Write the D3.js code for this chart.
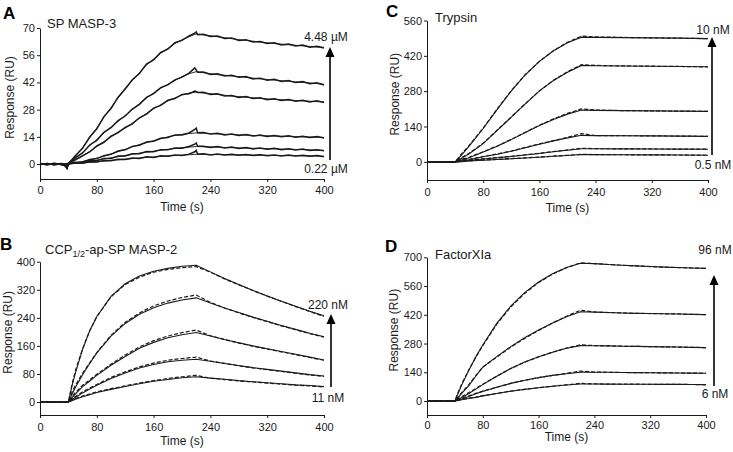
<!DOCTYPE html>
<html>
<head>
<meta charset="utf-8">
<script src="https://cdn.jsdelivr.net/npm/d3@7"></script>
<style>
  body { margin: 0; background: #fff; }
  svg { display: block; font-family: "Liberation Sans", Arial, Helvetica, sans-serif; }
</style>
</head>
<body>
<div id="chart"></div>
<script>
// shared x ticks (s)
const TIME_TICKS = [0, 80, 160, 240, 320, 400];

// ---- A: SP MASP-3 (RU) ----
const A_TICKS = [0, 14, 28, 42, 56, 70];
const A_FIT_T = [0,10,20,30,40,50,60,70,80,90,100,110,120,130,140,150,160,170,180,190,200,210,220,
  230,240,250,260,270,280,290,300,310,320,330,340,350,360,370,380,390,400];
const A_FIT_1 = [0,0,0,0,0, 4,8.5,13.5,18.5,24,29,34,39,43,47,51,54,57,59.5,62,64,65.5,67,
  66.5,66,65.5,65,64.5,64,63.6,63.2,62.8,62.4,62,61.7,61.4,61.1,60.8,60.5,60.2,60];
const A_FIT_2 = [0,0,0,0,0, 3,6,9.5,12.5,16,19,22,25,28,31,34,36.5,39,41,43,45,46.5,47.5,
  47,46.5,46,45.7,45.3,45,44.6,44.2,43.8,43.5,43.2,42.9,42.6,42.3,42,41.7,41.4,41];
const A_FIT_3 = [0,0,0,0,0, 2,4,6.5,9,11.5,14,16.5,18.5,21,23.5,26,28.5,30.5,32.5,34,35.5,36.5,37,
  36.6,36.2,35.8,35.4,35,34.7,34.4,34.1,33.8,33.5,33.3,33.1,32.9,32.7,32.5,32.3,32.1,32];
const A_FIT_4 = [0,0,0,0,0, 0.6,1.3,2,3,4,5.2,6.4,7.6,8.8,10,11,12,13,14,14.7,15.3,15.7,16,
  15.9,15.7,15.5,15.3,15.2,15,14.9,14.7,14.6,14.5,14.4,14.3,14.2,14.1,14,13.9,13.8,13.7];
const A_FIT_5 = [0,0,0,0,0, 0.4,0.9,1.4,2,2.6,3.2,3.8,4.4,5,5.6,6.1,6.6,7.1,7.6,8,8.4,8.7,9,
  8.9,8.8,8.7,8.5,8.4,8.3,8.2,8.1,8,7.9,7.8,7.7,7.6,7.5,7.4,7.3,7.1,7];
const A_FIT_6 = [0,0,0,0,0, 0.3,0.6,0.9,1.2,1.5,1.9,2.2,2.5,2.8,3.1,3.4,3.6,3.9,4.2,4.4,4.6,4.8,5,
  5,4.9,4.9,4.8,4.7,4.7,4.6,4.6,4.5,4.5,4.4,4.4,4.3,4.3,4.2,4.2,4.1,4];

const A_DAT_T = [0,10,20,30,36,38,40,42,50,60,70,80,90,100,110,120,130,140,150,160,170,180,190,200,210,
  218,220,222,230,240,250,260,270,280,290,300,310,320,330,340,350,360,370,380,390,400];
const A_DAT_1 = [0.3,-0.3,0.4,-0.2,-0.8,-2,0.4,1.1, 4.4,8.1,13.9,18.1,24.4,28.6,34.4,38.6,43.4,46.6,51.4,53.6,57.4,59.1,62.4,63.6,65.9,
  67.4,68,66.5, 66.8,65.6,65.9,64.6,64.9,63.6,64,62.8,63.1,62,62.4,61.3,61.7,60.7,61.2,60.1,60.6,59.7];
const A_DAT_2 = [-0.3,0.3,-0.3,0.2,-0.7,-1.8,0.3,0.9, 3.3,5.7,9.8,12.2,16.3,18.7,22.3,24.7,28.3,30.7,34.3,36.2,39.3,40.7,43.3,44.7,46.8,
  49.5,48.5,47.2, 47.3,46.1,46.4,45.3,45.7,44.6,45,43.8,44.2,43.1,43.6,42.5,43,41.9,42.4,41.3,41.8,40.7];
const A_DAT_3 = [0.2,-0.3,0.3,-0.3,-0.9,-2.1,0.4,0.8, 2.3,4.3,6.2,9.3,11.2,14.3,16.2,18.8,20.7,23.8,25.7,28.8,30.2,32.8,33.7,35.8,36.2,
  37.6,37.4,36.8, 36.9,35.8,36.1,35,35.3,34.3,34.7,33.7,34.1,33.1,33.6,32.7,33.2,32.3,32.8,31.9,32.6,31.7];
const A_DAT_4 = [-0.2,0.3,-0.3,0.2,-1,-2,0.2,0.5, 0.9,1.1,2.3,2.8,4.3,5,6.7,7.3,9.1,9.7,11.3,11.7,13.3,13.7,15,15,16,
  17.8,18.5,16.1, 16.2,15.4,15.8,15,15.5,14.7,15.2,14.4,14.9,14.2,14.7,14,14.5,13.8,14.3,13.6,14.1,13.4];
const A_DAT_5 = [0.2,-0.2,0.3,-0.2,-0.9,-1.8,0.2,0.4, 0.7,0.6,1.7,1.7,2.9,2.9,4.1,4.1,5.3,5.3,6.4,6.3,7.4,7.3,8.3,8.1,9,
  10.2,10.8,9.1, 9.2,8.5,9,8.2,8.7,8,8.5,7.8,8.3,7.6,8.1,7.4,7.9,7.2,7.7,7,7.4,6.8];
const A_DAT_6 = [-0.3,0.2,-0.2,0.3,-1.1,-2.2,0.1,0.3, 0.6,0.4,1.2,1,1.8,1.7,2.5,2.3,3.1,2.9,3.7,3.4,4.2,4,4.7,4.4,5.1,
  6.3,7,5.1, 5.3,4.7,5.2,4.6,5,4.5,4.9,4.4,4.8,4.3,4.7,4.2,4.6,4.1,4.5,4,4.4,3.8];

// ---- B: CCP1/2-ap-SP MASP-2 (RU) ----
const B_TICKS = [0, 80, 160, 240, 320, 400];
const B_T = [0,40,45,50,60,70,80,100,120,140,160,180,200,220,240,260,280,300,320,340,360,380,400];
const B_FIT_1 = [0,0,45,84,150,203,244,301,337,359,373,381,387,390,371,352,335,318,302,287,273,259,246];
const B_FIT_2 = [0,0,22,42,78,110,140,188,224,250,269,282,291,297,282,268,255,242,230,218,207,196,186];
const B_FIT_3 = [0,0,12,23,44,60,76,105,130,153,170,183,192,198,188,178,169,160,152,144,136,128,120];
const B_FIT_4 = [0,0,7,13,26,37,48,67,83,97,107,115,119,122,116,110,104,98,93,88,83,78,74];
const B_FIT_5 = [0,0,4,8,15,21,27,36,44,52,59,64,69,72,68,65,61,58,55,52,49,47,44];
const B_DAT_1 = [0,0,50,90,152,203,243,300,335,356,370,378,383,386,370,351,334,318,302,287,272,258,244];
const B_DAT_2 = [0,0,28,48,82,112,141,190,227,254,274,288,298,305,284,268,254,241,229,217,206,195,185];
const B_DAT_3 = [0,0,16,27,48,63,79,108,134,157,175,188,198,205,189,178,168,159,151,143,135,127,119];
const B_DAT_4 = [0,0,9,16,29,40,50,70,86,100,111,119,124,128,117,110,103,97,92,87,82,77,73];
const B_DAT_5 = [0,0,6,10,17,23,29,38,46,54,61,67,72,76,68,64,60,57,54,51,48,46,43];

// ---- C: Trypsin (RU) ----
const C_TICKS = [0, 140, 280, 420, 560];
const C_T = [0,40,50,60,80,100,120,140,160,180,200,220,240,280,320,360,400];
const C_FIT_1 = [0,0,30,62,132,208,281,345,398,440,472,494,493,492,491,490,488];
const C_FIT_2 = [0,0,15,32,72,125,177,230,281,322,355,382,381,380,379,378,377];
const C_FIT_3 = [0,0,8,16,39,62,88,116,144,168,189,205,204,203,202,201,200];
const C_FIT_4 = [0,0,4,8,20,30,42,56,70,83,95,105,104,103.5,103,102,101];
const C_FIT_5 = [0,0,2,5,11,16,21,27,33,40,46,52,52,51.5,51,50.5,50];
const C_FIT_6 = [0,0,1,3,6,9,12,15,18,22,25,29,28.5,28,27.5,27,26];
const C_DAT_1 = [0,0,34,65,134,210,282,346,398,440,474,498,495,493,491,490,488];
const C_DAT_2 = [0,0,18,34,74,126,178,231,281,323,357,385,382,380,379,378,376];
const C_DAT_3 = [0,0,10,18,40,63,89,117,145,170,192,210,205,203,202,201,200];
const C_DAT_4 = [0,0,6,10,21,31,43,57,71,84,97,112,104,103.5,103,102,101];
const C_DAT_5 = [0,0,4,6,12,17,22,28,34,41,47,54,52,51.5,51,50.5,50];
const C_DAT_6 = [0,0,2,4,7,10,13,16,19,22.5,26,30,28.5,28,27.5,27,26];

// ---- D: FactorXIa (RU) ----
const D_TICKS = [0, 140, 280, 420, 560, 700];
const D_T = [0,40,45,50,60,70,80,100,120,140,160,180,200,220,240,260,280,300,320,340,360,380,400];
const D_FIT_1 = [0,0,40,80,150,215,273,378,462,528,580,620,650,671,669,665,661,658,655,652,650,648,646];
const D_FIT_2 = [0,0,18,38,75,122,165,216,265,308,346,380,411,435,433,431,429,427,426,425,424,422,421];
const D_FIT_3 = [0,0,8,17,37,58,80,121,159,190,216,238,257,270,269.5,268.5,267,266,265,264,263,261.5,260];
const D_FIT_4 = [0,0,5,10,22,35,47,67,86,101,114,125,133,141,140.5,140,139,138.5,138,137,136.5,136,135];
const D_FIT_5 = [0,0,3,6,12,18,25,37,48,57,65,72,78,83,83,82.5,82,82,81.5,81,81,80.5,80];
const D_DAT_1 = [0,0,45,85,152,214,270,374,458,524,577,618,649,673,669,665,661,658,655,652,650,648,646];
const D_DAT_2 = [0,0,22,42,80,124,165,214,262,305,344,380,413,442,434,431,429,427,426,425,424,422,421];
const D_DAT_3 = [0,0,12,22,41,61,82,121,158,189,215,238,258,274,270,268.5,267,266,265,264,263,261.5,260];
const D_DAT_4 = [0,0,8,14,25,37,48,67,86,101,114,125,135,146,141,140,139,138.5,138,137,136.5,136,135];
const D_DAT_5 = [0,0,5,8,14,19,26,37,48,57,65,72,79,86,83.5,82.5,82,82,81.5,81,81,80.5,80];

const W = 733, H = 452;
const svg = d3.select('#chart').append('svg').attr('width', W).attr('height', H);

const panels = [
  { letter: 'A', lx: 3, ly: 19, title: ['SP MASP-3'], tx: 47, ty: 28,
    x0: 40, x1: 324, yTop: 28, yBot: 179, yDom: [-7.7, 70], yTicks: A_TICKS, xPad: 4,
    ylabX: 14, timeY: 211,
    fits: [A_FIT_1, A_FIT_2, A_FIT_3, A_FIT_4, A_FIT_5, A_FIT_6].map(v => ({ t: A_FIT_T, v })),
    data: [A_DAT_1, A_DAT_2, A_DAT_3, A_DAT_4, A_DAT_5, A_DAT_6].map(v => ({ t: A_DAT_T, v })),
    noisy: true,
    hi: '4.48 µM', lo: '0.22 µM', labX: 326, hiY: 41, loY: 173, arX: 330, arY0: 160, arY1: 47 },
  { letter: 'C', lx: 386, ly: 17, title: ['Trypsin'], tx: 435, ty: 22,
    x0: 427, x1: 708, yTop: 20.5, yBot: 180, yDom: [-72, 560], yTicks: C_TICKS, xPad: 5,
    ylabX: 399, timeY: 212,
    fits: [C_FIT_1, C_FIT_2, C_FIT_3, C_FIT_4, C_FIT_5, C_FIT_6].map(v => ({ t: C_T, v })),
    data: [C_DAT_1, C_DAT_2, C_DAT_3, C_DAT_4, C_DAT_5, C_DAT_6].map(v => ({ t: C_T, v })),
    hi: '10 nM', lo: '0.5 nM', labX: 713, hiY: 34, loY: 169, arX: 712, arY0: 155, arY1: 37 },
  { letter: 'B', lx: 0, ly: 250, title: ['CCP', '1/2', '-ap-SP MASP-2'], tx: 45, ty: 254,
    x0: 40, x1: 324, yTop: 261.7, yBot: 415, yDom: [-37, 400], yTicks: B_TICKS, xPad: 5,
    ylabX: 12, timeY: 445,
    fits: [B_FIT_1, B_FIT_2, B_FIT_3, B_FIT_4, B_FIT_5].map(v => ({ t: B_T, v })),
    data: [B_DAT_1, B_DAT_2, B_DAT_3, B_DAT_4, B_DAT_5].map(v => ({ t: B_T, v })),
    hi: '220 nM', lo: '11 nM', labX: 328, hiY: 309, loY: 402, arX: 331, arY0: 387, arY1: 314 },
  { letter: 'D', lx: 385, ly: 252, title: ['FactorXIa'], tx: 435, ty: 259,
    x0: 427, x1: 706, yTop: 257.3, yBot: 415, yDom: [-68, 700], yTicks: D_TICKS, xPad: 3,
    ylabX: 398, timeY: 441,
    fits: [D_FIT_1, D_FIT_2, D_FIT_3, D_FIT_4, D_FIT_5].map(v => ({ t: D_T, v })),
    data: [D_DAT_1, D_DAT_2, D_DAT_3, D_DAT_4, D_DAT_5].map(v => ({ t: D_T, v })),
    hi: '96 nM', lo: '6 nM', labX: 715, hiY: 254, loY: 398, arX: 714, arY0: 386, arY1: 275 },
];

const INK = '#1a1a1a';

function drawPanel(p) {
  const x = d3.scaleLinear().domain([0, 400]).range([p.x0, p.x1]);
  const y = d3.scaleLinear().domain(p.yDom).range([p.yBot, p.yTop]);
  const g = svg.append('g');

  const ax = g.append('g').attr('transform', `translate(0,${p.yBot})`)
    .call(d3.axisBottom(x).tickValues(TIME_TICKS).tickSize(3).tickSizeOuter(0).tickPadding(p.xPad));
  const ay = g.append('g').attr('transform', `translate(${p.x0},0)`)
    .call(d3.axisLeft(y).tickValues(p.yTicks).tickSize(3).tickSizeOuter(0).tickPadding(2));
  [ax, ay].forEach(a => {
    a.selectAll('text').style('font-size', '11px').style('fill', INK)
      .style('font-family', '"Liberation Sans", Arial, sans-serif');
    a.selectAll('path, line').attr('stroke', INK).attr('stroke-width', 1);
  });

  // axis titles
  g.append('text').attr('x', (p.x0 + p.x1) / 2).attr('y', p.timeY)
    .attr('text-anchor', 'middle').style('font-size', '12px').style('fill', INK).text('Time (s)');
  const cy = (p.yTop + p.yBot) / 2 - 6;
  g.append('text').attr('x', p.ylabX).attr('y', cy)
    .attr('transform', `rotate(-90, ${p.ylabX}, ${cy})`)
    .attr('text-anchor', 'middle').style('font-size', '12px').style('fill', INK).text('Response (RU)');

  // panel letter + title
  g.append('text').attr('x', p.lx).attr('y', p.ly)
    .style('font-size', '17px').style('font-weight', 'bold').style('fill', '#000').text(p.letter);
  const tt = g.append('text').attr('x', p.tx).attr('y', p.ty).style('font-size', '13px').style('fill', INK);
  tt.append('tspan').text(p.title[0]);
  if (p.title.length > 1) {
    tt.append('tspan').attr('dy', 3).style('font-size', '9px').text(p.title[1]);
    tt.append('tspan').attr('dy', -3).text(p.title[2]);
  }

  // sensorgrams: data (dashed / noisy) + fitted curves (solid)
  const line = s => d3.line().x((d, i) => x(s.t[i])).y(d => y(d))(s.v);
  p.data.forEach(s => {
    const path = g.append('path').attr('d', line(s)).attr('fill', 'none').attr('stroke', INK);
    if (p.noisy) path.attr('stroke-width', 1.5);
    else path.attr('stroke-width', 1.2).attr('stroke-dasharray', '4 2');
  });
  p.fits.forEach(s => {
    g.append('path').attr('d', line(s)).attr('fill', 'none')
      .attr('stroke', INK).attr('stroke-width', p.noisy ? 0.9 : 1.1);
  });

  // concentration arrow
  g.append('line').attr('x1', p.arX).attr('x2', p.arX).attr('y1', p.arY0).attr('y2', p.arY1 + 8)
    .attr('stroke', '#000').attr('stroke-width', 1.6);
  g.append('path')
    .attr('d', `M${p.arX},${p.arY1} L${p.arX - 4.5},${p.arY1 + 10} L${p.arX + 4.5},${p.arY1 + 10} Z`)
    .attr('fill', '#000');
  g.append('text').attr('x', p.labX).attr('y', p.hiY).attr('text-anchor', 'middle')
    .style('font-size', '12px').style('fill', INK).text(p.hi);
  g.append('text').attr('x', p.labX).attr('y', p.loY).attr('text-anchor', 'middle')
    .style('font-size', '12px').style('fill', INK).text(p.lo);
}

panels.forEach(drawPanel);
</script>
</body>
</html>
